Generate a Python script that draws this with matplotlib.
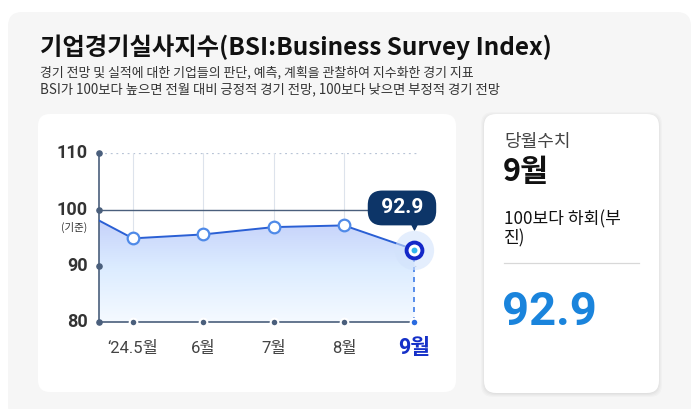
import numpy as np
import matplotlib
matplotlib.use("Agg")
from matplotlib import pyplot as plt
from matplotlib.patches import FancyBboxPatch, Polygon

plt.rcParams['font.family'] = ['Noto Sans CJK KR', 'DejaVu Sans']
NUM_FONT = ['Roboto', 'Noto Sans CJK KR', 'DejaVu Sans']

# 데이터: 기업경기실사지수 (직전 4월 값은 왼쪽 축 밖으로 잘림)
months = ["‘24.4월", "‘24.5월", "6월", "7월", "8월", "9월"]
bsi = [101.5, 94.9, 95.6, 96.9, 97.2, 92.9]
y_ticks = [80, 90, 100, 110]

W, H = 699, 409
fig = plt.figure(figsize=(W / 100, H / 100), dpi=100)
fig.patch.set_facecolor("white")


def px(x, y):
    # 픽셀 좌표 -> figure 좌표
    return x / W, 1 - y / H


def card(x0, y0, x1, y1, fc, r=12, shadow=False):
    if shadow:
        for i, a in enumerate([0.025, 0.025, 0.02, 0.02]):
            s = FancyBboxPatch(px(x0 - i, y1 + i + 1), (x1 - x0 + 2 * i) / W, (y1 - y0 + 2 * i) / H,
                               boxstyle="round,pad=0,rounding_size=%f" % (r / W),
                               transform=fig.transFigure, fc="black", ec="none", alpha=a,
                               mutation_aspect=W / H, zorder=0)
            fig.add_artist(s)
    p = FancyBboxPatch(px(x0, y1), (x1 - x0) / W, (y1 - y0) / H,
                       boxstyle="round,pad=0,rounding_size=%f" % (r / W),
                       transform=fig.transFigure, fc=fc, ec="none", mutation_aspect=W / H, zorder=0)
    fig.add_artist(p)


# 배경 패널과 카드
card(8, 12, 691, 420, "#f6f6f6", r=14)
card(38, 114, 456, 392, "white", r=12)
card(484, 114, 659, 393, "white", r=12, shadow=True)

# 제목
fig.text(*px(40, 47), "기업경기실사지수(BSI:Business Survey Index)", fontsize=17.5, fontweight="bold",
         color="#111111", va="center", ha="left")
fig.text(*px(40, 73), "경기 전망 및 실적에 대한 기업들의 판단, 예측, 계획을 관찰하여 지수화한 경기 지표",
         fontsize=9.3, color="#333333", va="center", ha="left")
fig.text(*px(40, 89), "BSI가 100보다 높으면 전월 대비 긍정적 경기 전망, 100보다 낮으면 부정적 경기 전망",
         fontsize=9.6, color="#333333", va="center", ha="left")

# 차트 영역
ax_l, ax_r, ax_t, ax_b = 99, 418, 153.3, 322.3
ax = fig.add_axes([ax_l / W, 1 - ax_b / H, (ax_r - ax_l) / W, (ax_b - ax_t) / H])
ax.set_zorder(2)
ax.set_facecolor("none")
x = np.arange(len(months)) - 1
ax.set_xlim(-0.48, 4.05)
ax.set_ylim(80, 110)
for s in ax.spines.values():
    s.set_visible(False)
ax.set_xticks([])
ax.set_yticks([])

slate = "#4a5f7c"
# 보조선
for v in [110, 90]:
    ax.axhline(v, color="#b8c4d6", lw=0.9, ls=(0, (1.5, 3)), zorder=1)
ax.plot([-0.48, 3.75], [100, 100], color=slate, lw=1.0, zorder=2)
for xi in x[1:-1]:
    ax.axvline(xi, color="#dde3ec", lw=0.8, zorder=1)

# 그라데이션 영역
grad = np.linspace(0, 1, 256).reshape(-1, 1)
cmap = matplotlib.colors.LinearSegmentedColormap.from_list("g", ["#f5faff", "#dcecff", "#c3cffa"])
im = ax.imshow(grad, cmap=cmap, extent=[-1, 4.05, 80, 99], origin="lower", aspect="auto", zorder=1.5)
verts = [(x[0], 80)] + list(zip(x, bsi)) + [(x[-1], 80)]
poly = Polygon(verts, closed=True, transform=ax.transData, fc="none", ec="none")
ax.add_patch(poly)
im.set_clip_path(poly)

# 축선
ax.plot([-0.48, -0.48], [80, 110], color=slate, lw=1.2, zorder=3, clip_on=False)
ax.plot([-0.48, 4.0], [80, 80], color=slate, lw=1.2, zorder=3, clip_on=False)
ax.scatter([-0.48] * len(y_ticks), y_ticks, s=14, color=slate, zorder=4, clip_on=False)
ax.scatter(x[1:-1], [80] * (len(x) - 2), s=30, color=slate, edgecolor="white", lw=1.5, zorder=4, clip_on=False)
ax.scatter([x[-1]], [80], s=30, color="#2a6be0", edgecolor="white", lw=1.5, zorder=4, clip_on=False)
ax.plot([x[-1], x[-1]], [80, bsi[-1]], color="#3d7be6", lw=1.2, ls=(0, (3, 3)), zorder=3)

# 선
ax.plot(x, bsi, color="#2a5fd4", lw=1.4, zorder=5)
ax.scatter(x[1:-1], bsi[1:-1], s=70, facecolor="white", edgecolor="#4f8ae8", lw=1.6, zorder=6)
ax.scatter([x[-1]], [bsi[-1]], s=800, color="#d3e3fc", alpha=0.6, lw=0, zorder=5.5, clip_on=False)
ax.scatter([x[-1]], [bsi[-1]], s=130, facecolor="white", edgecolor="#1428c8", lw=2.8, zorder=7, clip_on=False)
ax.scatter([x[-1]], [bsi[-1]], s=18, color="#33b6ee", lw=0, zorder=8, clip_on=False)

# 툴팁
ax.annotate(" %.1f " % bsi[-1], (x[-1], bsi[-1]), xytext=(-9, 30), textcoords="offset points",
            ha="center", va="center", fontsize=15, fontweight="bold", color="white",
            family=NUM_FONT,
            bbox=dict(boxstyle="round,pad=0.38,rounding_size=0.7", fc="#0d3568", ec="none"),
            zorder=9, annotation_clip=False)
ax.scatter([x[-1]], [bsi[-1] + 4.4], marker="v", s=40, color="#0d3568", zorder=9, clip_on=False)

# y 눈금 라벨
for v in y_ticks:
    fig.text(*px(88, ax_b - (v - 80) * (ax_b - ax_t) / 30), str(v), fontsize=13, fontweight="bold",
             color="#333333", ha="right", va="center", family=NUM_FONT, zorder=5)
fig.text(*px(87, 227), "(기준)", fontsize=7.5, color="#333333", ha="right", va="center", zorder=5)

# x 눈금 라벨
for xi, m in zip(x[1:-1], months[1:-1]):
    xf = ax.transData.transform((xi, 80))
    fig.text(xf[0] / W, 1 - 349 / H, m, fontsize=12, color="#444444",
             ha="center", va="center", family=NUM_FONT, zorder=5)
xf = ax.transData.transform((x[-1], 80))
fig.text(xf[0] / W, 1 - 348 / H, months[-1], fontsize=15.5,
         fontweight="bold", color="#1530c8", ha="center", va="center", family=NUM_FONT, zorder=5)

# 오른쪽 카드
fig.text(*px(504, 142), "당월수치", fontsize=13, color="#444444", va="center", zorder=5)
fig.text(*px(503, 172), months[-1], fontsize=22, fontweight="bold", color="#111111", va="center", zorder=5)
fig.text(*px(504, 219), "100보다 하회(부", fontsize=12.3, color="#111111", va="center", zorder=5)
fig.text(*px(504, 238), "진)", fontsize=12.3, color="#111111", va="center", zorder=5)
fig.add_artist(plt.Line2D([504 / W, 639 / W], [1 - 263 / H, 1 - 263 / H], color="#d8d8d8", lw=0.9,
                          transform=fig.transFigure, zorder=5))
fig.text(*px(502, 312), "%.1f" % bsi[-1], fontsize=34, fontweight="bold", color="#1a84dc", va="center",
         family=NUM_FONT, zorder=5)

fig.savefig("out.png", dpi=100)
